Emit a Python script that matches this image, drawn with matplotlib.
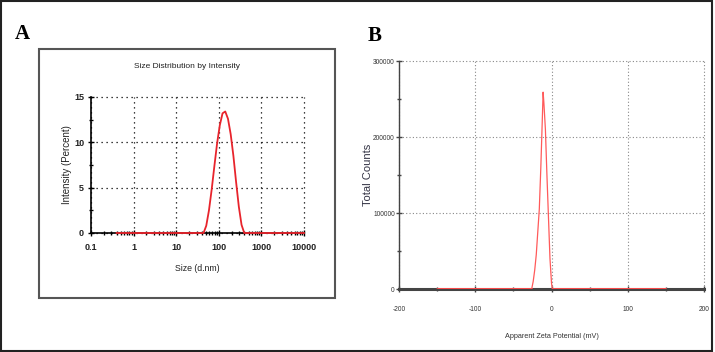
import numpy as np
import matplotlib
matplotlib.use("Agg")
from matplotlib import pyplot as plt
from matplotlib.patches import Rectangle
from matplotlib.ticker import FixedLocator, NullFormatter, LogLocator

# Panel A: size distribution by intensity (DLS bins, nm / %)
size_nm = [0.4, 43.82, 50.75, 58.77, 68.06, 78.82, 91.28, 105.7, 122.4, 141.8,
           164.2, 190.1, 220.2, 255.0, 295.3, 342.0, 396.1, 10000]
intensity = [0, 0, 0.8, 2.5, 4.8, 7.4, 9.9, 11.9, 13.2, 13.4,
             12.6, 10.9, 8.5, 5.6, 2.9, 0.9, 0, 0]
size_ticks = [0.1, 1, 10, 100, 1000, 10000]
size_labels = ["0.1", "1", "10", "100", "1000", "10000"]
int_ticks = [0, 5, 10, 15]

# Panel B: zeta potential (mV / counts)
zeta_mv = [-150, -26, -24, -22, -20, -18, -16, -14, -12, -11, -10, -8, -6, -4, -2, 0, 1, 150]
counts = [0, 0, 10000, 25000, 45000, 75000, 105000, 160000, 225000, 259000,
          245000, 210000, 150000, 95000, 40000, 8000, 0, 0]
zeta_ticks = [-200, -100, 0, 100, 200]
count_ticks = [0, 100000, 200000, 300000]

W, H = 715, 352
plt.rcParams["font.family"] = ["Liberation Sans", "DejaVu Sans"]
plt.rcParams["axes.unicode_minus"] = False
fig = plt.figure(figsize=(W / 100, H / 100), dpi=100)

# outer frame and inner box of panel A
fig.patches.append(Rectangle((0.002, 0.004), 0.994, 0.992, transform=fig.transFigure,
                             fill=False, ec="#222222", lw=1.5))
fig.patches.append(Rectangle((39 / W, 1 - 298 / H), 296 / W, 249 / H, transform=fig.transFigure,
                             fill=False, ec="#555555", lw=1.5))

fig.text(15 / W, 1 - 39 / H, "A", fontsize=15, fontweight="bold", family="Liberation Serif")
fig.text(368 / W, 1 - 41 / H, "B", fontsize=15, fontweight="bold", family="Liberation Serif")

# ---- Panel A ----
axA = fig.add_axes([91 / W, 1 - 233 / H, 213 / W, 136 / H])
axA.plot(size_nm, intensity, color="#e8242c", lw=1.3, zorder=5, clip_on=False)
axA.set_xscale("log")
axA.set_xlim(0.1, 10000)
axA.set_ylim(0, 15)
axA.xaxis.set_major_locator(FixedLocator(size_ticks))
axA.set_xticklabels(size_labels)
axA.xaxis.set_minor_locator(LogLocator(base=10, subs=np.arange(2, 10)))
axA.xaxis.set_minor_formatter(NullFormatter())
axA.yaxis.set_major_locator(FixedLocator(int_ticks))
axA.yaxis.set_minor_locator(FixedLocator([2.5, 7.5, 12.5]))
axA.grid(True, which="major", color="black", ls=(0, (1, 3)), lw=0.9)
for s in ["top", "right"]:
    axA.spines[s].set_visible(False)
for s in ["left", "bottom"]:
    axA.spines[s].set_linewidth(1.2)
axA.tick_params(which="major", direction="inout", length=4, width=1, labelsize=6.5, pad=3)
axA.tick_params(axis="x", pad=5)
axA.tick_params(which="minor", direction="inout", length=3, width=1)
for lab in axA.get_xticklabels() + axA.get_yticklabels():
    lab.set_fontweight("bold")
    lab.set_color("#222222")
axA.set_xlabel("Size (d.nm)", fontsize=6.3, labelpad=9, color="#222222")
fig.text(67 / W, 1 - 165 / H, "Intensity (Percent)", fontsize=7, rotation=90,
         ha="center", va="center", color="#222222")
fig.text(187 / W, 1 - 67 / H, "Size Distribution by Intensity", fontsize=6,
         ha="center", va="center", color="#222222")

# ---- Panel B ----
axB = fig.add_axes([399 / W, 1 - 289 / H, 305 / W, 228 / H])
axB.plot(zeta_mv, counts, color="#ff5a5a", lw=0.9, zorder=5)
axB.hlines(0, zeta_mv[0], zeta_mv[1], color="#ff4a4a", lw=2, zorder=6)
axB.hlines(0, zeta_mv[-2], zeta_mv[-1], color="#ff4a4a", lw=2, zorder=6)
axB.set_xlim(-200, 200)
axB.set_ylim(0, 300000)
axB.xaxis.set_major_locator(FixedLocator(zeta_ticks))
axB.xaxis.set_minor_locator(FixedLocator([-150, -50, 50, 150]))
axB.yaxis.set_major_locator(FixedLocator(count_ticks))
axB.yaxis.set_minor_locator(FixedLocator([50000, 150000, 250000]))
axB.set_xticklabels([str(v) for v in zeta_ticks])
axB.set_yticklabels([str(v) for v in count_ticks])
axB.grid(True, which="major", color="#888888", ls=(0, (1, 2)), lw=0.8)
for s in ["top", "right"]:
    axB.spines[s].set_visible(False)
axB.spines["bottom"].set_linewidth(2.2)
axB.spines["bottom"].set_color("#444444")
axB.spines["left"].set_linewidth(1)
axB.spines["left"].set_color("#444444")
axB.tick_params(which="major", direction="inout", length=4, width=1, color="#444444",
                labelsize=4.8, pad=1, labelcolor="#333333")
axB.tick_params(which="minor", direction="inout", length=3, width=1, color="#444444")
axB.tick_params(axis="x", pad=10)
axB.set_xlabel("Apparent Zeta Potential (mV)", fontsize=5.2, labelpad=15, color="#333333")
fig.text(368 / W, 1 - 175 / H, "Total Counts", fontsize=8, rotation=90,
         ha="center", va="center", color="#333344")

# grid lines on the axis limits should not be clipped in half
for ax in (axA, axB):
    for gl in ax.get_xgridlines() + ax.get_ygridlines():
        gl.set_clip_on(False)

fig.savefig("out.png", dpi=100)
